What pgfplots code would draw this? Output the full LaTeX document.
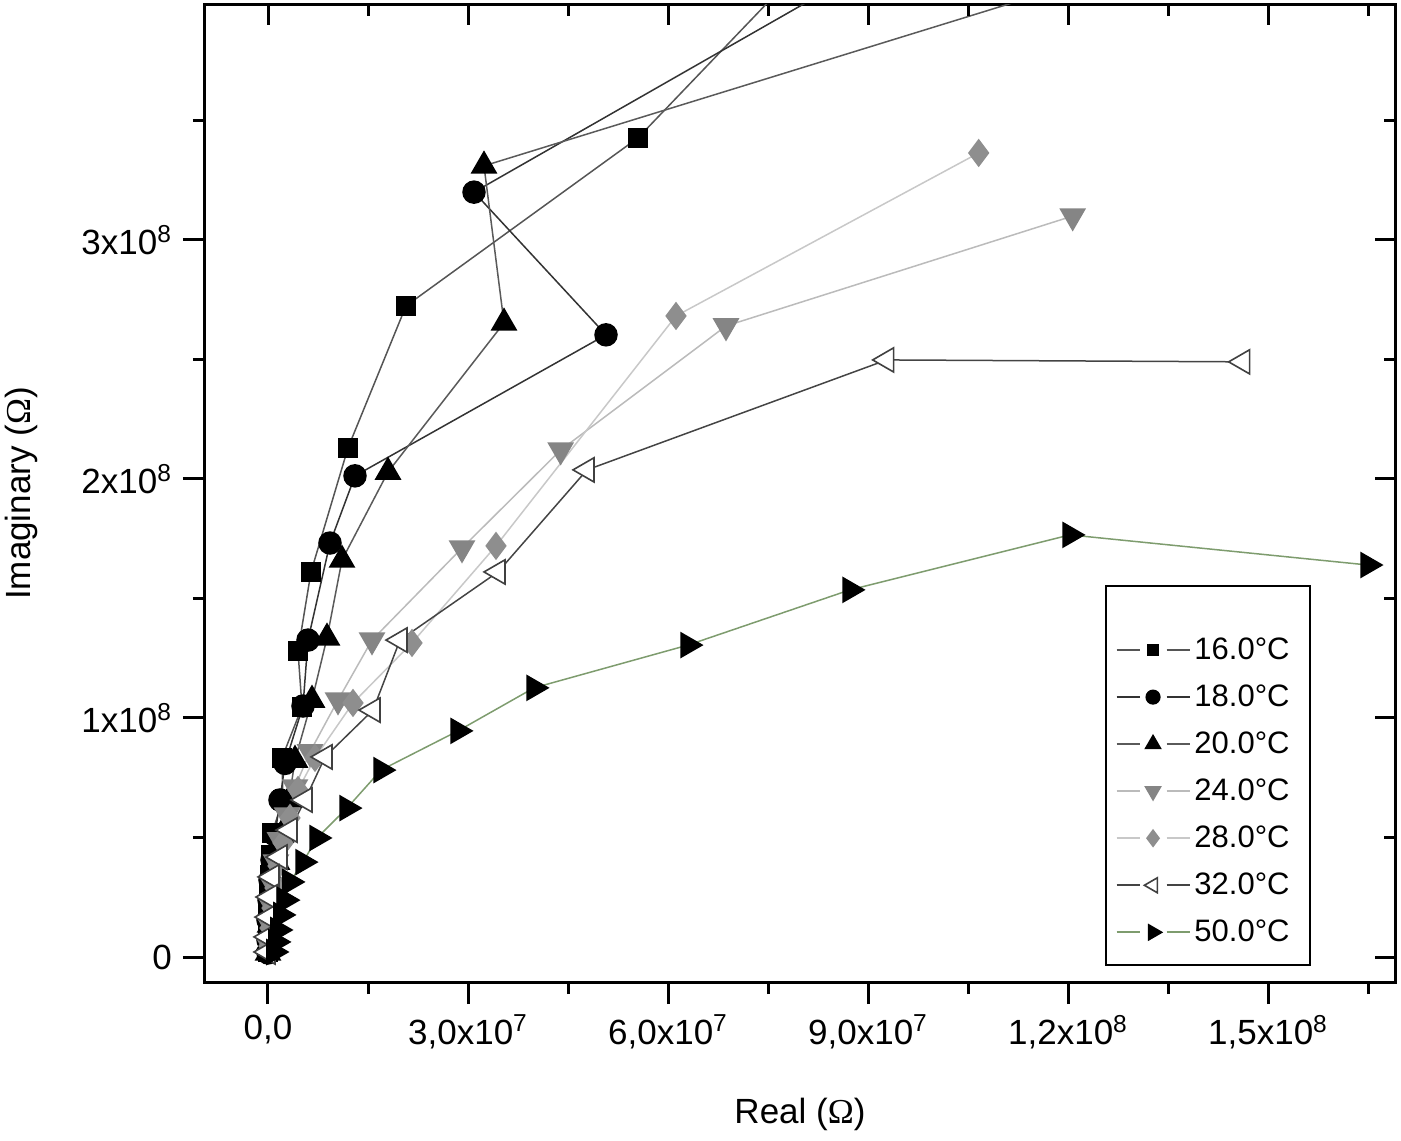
\documentclass[border=0pt]{standalone}
\usepackage{fontspec}
\setmainfont{Liberation Sans}
\newfontfamily\omegafont{Liberation Serif}
\usepackage{pgfplots}
\pgfplotsset{compat=1.18}
\definecolor{l16}{HTML}{555555}
\definecolor{l18}{HTML}{333333}
\definecolor{l20}{HTML}{5A5A5A}
\definecolor{l24}{HTML}{BBBBBB}
\definecolor{l28}{HTML}{C8C8C8}
\definecolor{l32}{HTML}{444444}
\definecolor{l50}{HTML}{7E9C6E}
\definecolor{m24}{HTML}{858585}
\definecolor{m28}{HTML}{8E8E8E}
\begin{document}
\begin{tikzpicture}
\path[use as bounding box] (-102.5pt,-79pt) rectangle (598pt,491pt);
\begin{axis}[
  scale only axis, width=595pt, height=488.5pt,
  xmin=-0.945e7, xmax=1.6905e8, ymin=-1.046e7, ymax=3.983e8,
  scaled x ticks=false, scaled y ticks=false,
  axis line style={line width=1.5pt},
  tick style={line width=1.5pt, black},
  major tick length=11pt, minor tick length=6pt,
  tick align=outside, xtick pos=left, ytick pos=left,
  xtick={0,3e7,6e7,9e7,1.2e8,1.5e8},
  minor xtick={1.5e7,4.5e7,7.5e7,1.05e8,1.35e8,1.65e8},
  xticklabels={{0,0},{3,0x10\textsuperscript{7}},{6,0x10\textsuperscript{7}},{9,0x10\textsuperscript{7}},{1,2x10\textsuperscript{8}},{1,5x10\textsuperscript{8}}},
  ytick={0,1e8,2e8,3e8},
  minor ytick={5e7,1.5e8,2.5e8,3.5e8},
  yticklabels={0,1x10\textsuperscript{8},2x10\textsuperscript{8},3x10\textsuperscript{8}},
  tick label style={font=\fontsize{17.5}{20}\selectfont},
  xticklabel style={yshift=-2pt},
  yticklabel style={xshift=-2pt},
  xlabel={Real ({\omegafont Ω})},
  ylabel={Imaginary ({\omegafont Ω})},
  every axis x label/.style={at={(axis description cs:0.5,-0.136)}, anchor=center, font=\fontsize{17.5}{20}\selectfont},
  every axis y label/.style={at={(axis description cs:-0.154,0.5)}, rotate=90, anchor=center, font=\fontsize{17.5}{20}\selectfont},
  legend cell align=left,
  legend style={at={(axis description cs:0.756,0.406)}, anchor=north west,
    draw=black, line width=1pt, font=\fontsize{15.5}{18}\selectfont,
    row sep=7.2pt, inner xsep=5pt, inner ysep=8pt,
    nodes={inner sep=2pt}},
  legend image code/.code={
    \draw[line width=0.9pt] (0pt,0pt) -- (11.5pt,0pt) (25pt,0pt) -- (36.5pt,0pt);
    \draw[every mark/.append style={scale=0.62}] plot[only marks] coordinates {(18.25pt,0pt)};
  },
]
\addlegendimage{empty legend}
\addlegendentry{\rule{0pt}{3pt}}
% 16.0 C
\addplot[color=l16, line width=0.75pt, mark=square*, mark size=4.5pt, mark options={fill=black, draw=black}] coordinates {
(8.55e7,4.3e8) (5.55e7,3.427e8) (2.07e7,2.724e8) (1.20e7,2.130e8) (0.645e7,1.611e8)
(0.45e7,1.280e8) (0.51e7,1.046e8) (0.21e7,0.833e8) (0.225e7,0.657e8) (0.06e7,0.519e8)
(0.045e7,0.427e8) (0.03e7,0.343e8) (0.015e7,0.26e8) (0.0e7,0.19e8) (0.0e7,0.12e8) (0.0e7,0.06e8) (0.0e7,0.02e8)
};
\addlegendentry{16.0°C\hspace*{3pt}}
% 18.0 C
\addplot[color=l18, line width=0.75pt, mark=*, mark size=5.5pt, mark options={fill=black, draw=black}] coordinates {
(1.0e8,4.3e8) (3.09e7,3.20e8) (5.07e7,2.603e8) (1.305e7,2.013e8) (0.93e7,1.732e8)
(0.60e7,1.326e8) (0.525e7,1.05e8) (0.255e7,0.81e8) (0.18e7,0.657e8) (0.105e7,0.51e8)
(0.06e7,0.406e8) (0.03e7,0.322e8) (0.015e7,0.238e8) (0.0e7,0.155e8) (0.0e7,0.071e8) (0.0e7,0.017e8)
};
\addlegendentry{18.0°C}
% 20.0 C
\addplot[color=l20, line width=0.75pt, mark=triangle*, mark size=7pt, mark options={fill=black, draw=black}] coordinates {
(1.475e8,4.3e8) (3.24e7,3.31e8) (3.54e7,2.653e8) (1.80e7,2.029e8) (1.11e7,1.661e8)
(0.885e7,1.335e8) (0.66e7,1.075e8) (0.405e7,0.824e8) (0.315e7,0.657e8) (0.195e7,0.51e8)
(0.135e7,0.397e8) (0.09e7,0.301e8) (0.06e7,0.218e8) (0.03e7,0.134e8) (0.015e7,0.059e8) (0.0e7,0.017e8)
};
\addlegendentry{20.0°C}
% 24.0 C
\addplot[color=l24, line width=0.75pt, mark=triangle*, mark size=7pt, mark options={rotate=180, fill=m24, draw=m24}] coordinates {
(12.07e7,3.10e8) (6.87e7,2.64e8) (4.39e7,2.121e8) (2.91e7,1.711e8) (1.56e7,1.326e8)
(1.05e7,1.075e8) (0.63e7,0.858e8) (0.405e7,0.711e8) (0.285e7,0.594e8) (0.18e7,0.49e8)
(0.12e7,0.397e8) (0.075e7,0.301e8) (0.045e7,0.218e8) (0.03e7,0.134e8) (0.015e7,0.05e8)
};
\addlegendentry{24.0°C}
% 28.0 C
\addplot[color=l28, line width=0.75pt, mark=diamond*, mark size=6.5pt, mark options={fill=m28, draw=m28}] coordinates {
(10.66e7,3.364e8) (6.12e7,2.682e8) (3.42e7,1.72e8) (2.16e7,1.314e8) (1.275e7,1.063e8)
(0.705e7,0.833e8) (0.45e7,0.699e8) (0.33e7,0.582e8) (0.225e7,0.477e8) (0.15e7,0.381e8)
(0.105e7,0.289e8) (0.06e7,0.205e8) (0.03e7,0.121e8) (0.015e7,0.046e8)
};
\addlegendentry{28.0°C}
% 32.0 C
\addplot[color=l32, line width=0.75pt, mark=triangle*, mark size=7pt, mark options={rotate=90, fill=white, draw=black!75, line width=0.8pt}] coordinates {
(14.62e7,2.49e8) (9.28e7,2.498e8) (4.785e7,2.038e8) (3.45e7,1.611e8) (1.98e7,1.326e8)
(1.575e7,1.033e8) (0.855e7,0.837e8) (0.555e7,0.657e8) (0.33e7,0.531e8) (0.18e7,0.418e8)
(0.06e7,0.335e8) (0.03e7,0.251e8) (0.015e7,0.167e8) (0.0e7,0.084e8) (0.0e7,0.021e8)
};
\addlegendentry{32.0°C}
% 50.0 C
\addplot[color=l50, line width=0.75pt, mark=triangle*, mark size=7pt, mark options={rotate=-90, fill=black, draw=black}] coordinates {
(16.5e7,1.64e8) (12.03e7,1.766e8) (8.73e7,1.536e8) (6.30e7,1.305e8) (3.99e7,1.126e8)
(2.85e7,0.946e8) (1.695e7,0.782e8) (1.185e7,0.623e8) (0.735e7,0.498e8) (0.525e7,0.397e8)
(0.33e7,0.314e8) (0.255e7,0.238e8) (0.195e7,0.176e8) (0.15e7,0.113e8) (0.12e7,0.063e8) (0.09e7,0.021e8)
};
\addlegendentry{50.0°C}
\end{axis}
\begin{axis}[
  scale only axis, width=595pt, height=488.5pt,
  xmin=-0.945e7, xmax=1.6905e8, ymin=-1.046e7, ymax=3.983e8,
  scaled x ticks=false, scaled y ticks=false,
  axis line style={draw=none},
  tick style={line width=1.5pt, black},
  major tick length=10pt, minor tick length=5.5pt,
  tick align=inside, xtick pos=right, ytick pos=right,
  xtick={0,3e7,6e7,9e7,1.2e8,1.5e8},
  minor xtick={1.5e7,4.5e7,7.5e7,1.05e8,1.35e8,1.65e8},
  ytick={0,1e8,2e8,3e8},
  minor ytick={5e7,1.5e8,2.5e8,3.5e8},
  xticklabels={}, yticklabels={},
]
\end{axis}
\end{tikzpicture}
\end{document}
